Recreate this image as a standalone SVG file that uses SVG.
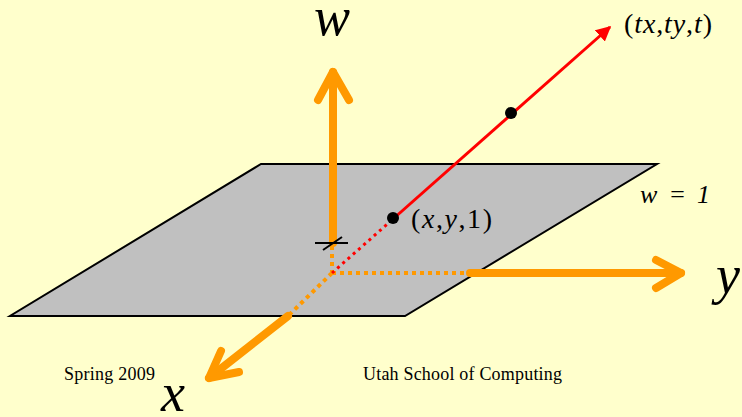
<svg xmlns="http://www.w3.org/2000/svg" width="742" height="417" viewBox="0 0 742 417">
<style>
.ax{stroke:#FF9900;stroke-width:8;fill:none;stroke-linecap:round;stroke-linejoin:round}
.axd{stroke:#FF9900;stroke-width:4;fill:none;stroke-dasharray:4 4}
.lbl{font-family:"Liberation Serif",serif;font-style:italic;fill:#000}
.ft{font-family:"Liberation Serif",serif;font-size:18px;fill:#000}
.pt{font-family:"Liberation Serif",serif;font-size:28px;fill:#000}
</style>
<defs>
<marker id="ra" viewBox="0 0 10 10" refX="9" refY="5" markerWidth="5" markerHeight="5" orient="auto"><path d="M0,0 L10,5 L0,10 z" fill="#FF0000"/></marker>
</defs>
<rect width="742" height="417" fill="#FFFFCC"/>
<g id="plane"><polygon points="261,164 657,164 405,316 10,316" fill="#C0C0C0" stroke="#000" stroke-width="2"/></g>
<g id="connectors">
<line class="axd" x1="332" y1="246" x2="332" y2="273"/>
<line class="axd" x1="332" y1="273" x2="470" y2="273"/>
<line class="axd" x1="332" y1="273" x2="288" y2="316"/>
<line class="ax" x1="333" y1="243" x2="333" y2="72"/>
<polyline class="ax" points="318,100 333,72 349,100"/>
<line class="ax" x1="470" y1="273" x2="681" y2="273"/>
<polyline class="ax" points="656,260 681,273 656,288"/>
<line class="ax" x1="288" y1="316" x2="209" y2="378"/>
<polyline class="ax" points="221,351 209,378 239,372"/>
<line x1="315" y1="243" x2="348" y2="243" stroke="#000" stroke-width="2"/>
<line x1="323" y1="250" x2="342" y2="237" stroke="#000" stroke-width="2"/>
<line x1="332" y1="273" x2="393" y2="219" stroke="#FF0000" stroke-width="3" stroke-dasharray="3 4"/>
<line x1="393" y1="219" x2="610" y2="27" stroke="#FF0000" stroke-width="3" marker-end="url(#ra)"/>
</g>
<g id="p1"><circle cx="393" cy="218" r="6" fill="#000"/><text class="pt" x="411" y="228" textLength="81" lengthAdjust="spacing">(<tspan font-style="italic">x</tspan>,<tspan font-style="italic">y</tspan>,1)</text></g>
<g id="p2"><circle cx="511" cy="113" r="6" fill="#000"/></g>
<g id="p3"><text class="pt" x="624" y="33" textLength="88" lengthAdjust="spacing">(<tspan font-style="italic">tx</tspan>,<tspan font-style="italic">ty</tspan>,<tspan font-style="italic">t</tspan>)</text></g>
<g id="w"><text class="lbl" x="314" y="35" font-size="54">w</text></g>
<g id="y"><text class="lbl" x="716" y="293" font-size="54">y</text></g>
<g id="x"><text class="lbl" x="161" y="411" font-size="54">x</text></g>
<g id="weq"><text class="lbl" x="640" y="203" font-size="26" textLength="70" lengthAdjust="spacing" xml:space="preserve">w = 1</text></g>
<text class="ft" x="64" y="380" textLength="91" lengthAdjust="spacing">Spring 2009</text>
<text class="ft" x="363" y="380" textLength="199" lengthAdjust="spacing">Utah School of Computing</text>
</svg>
